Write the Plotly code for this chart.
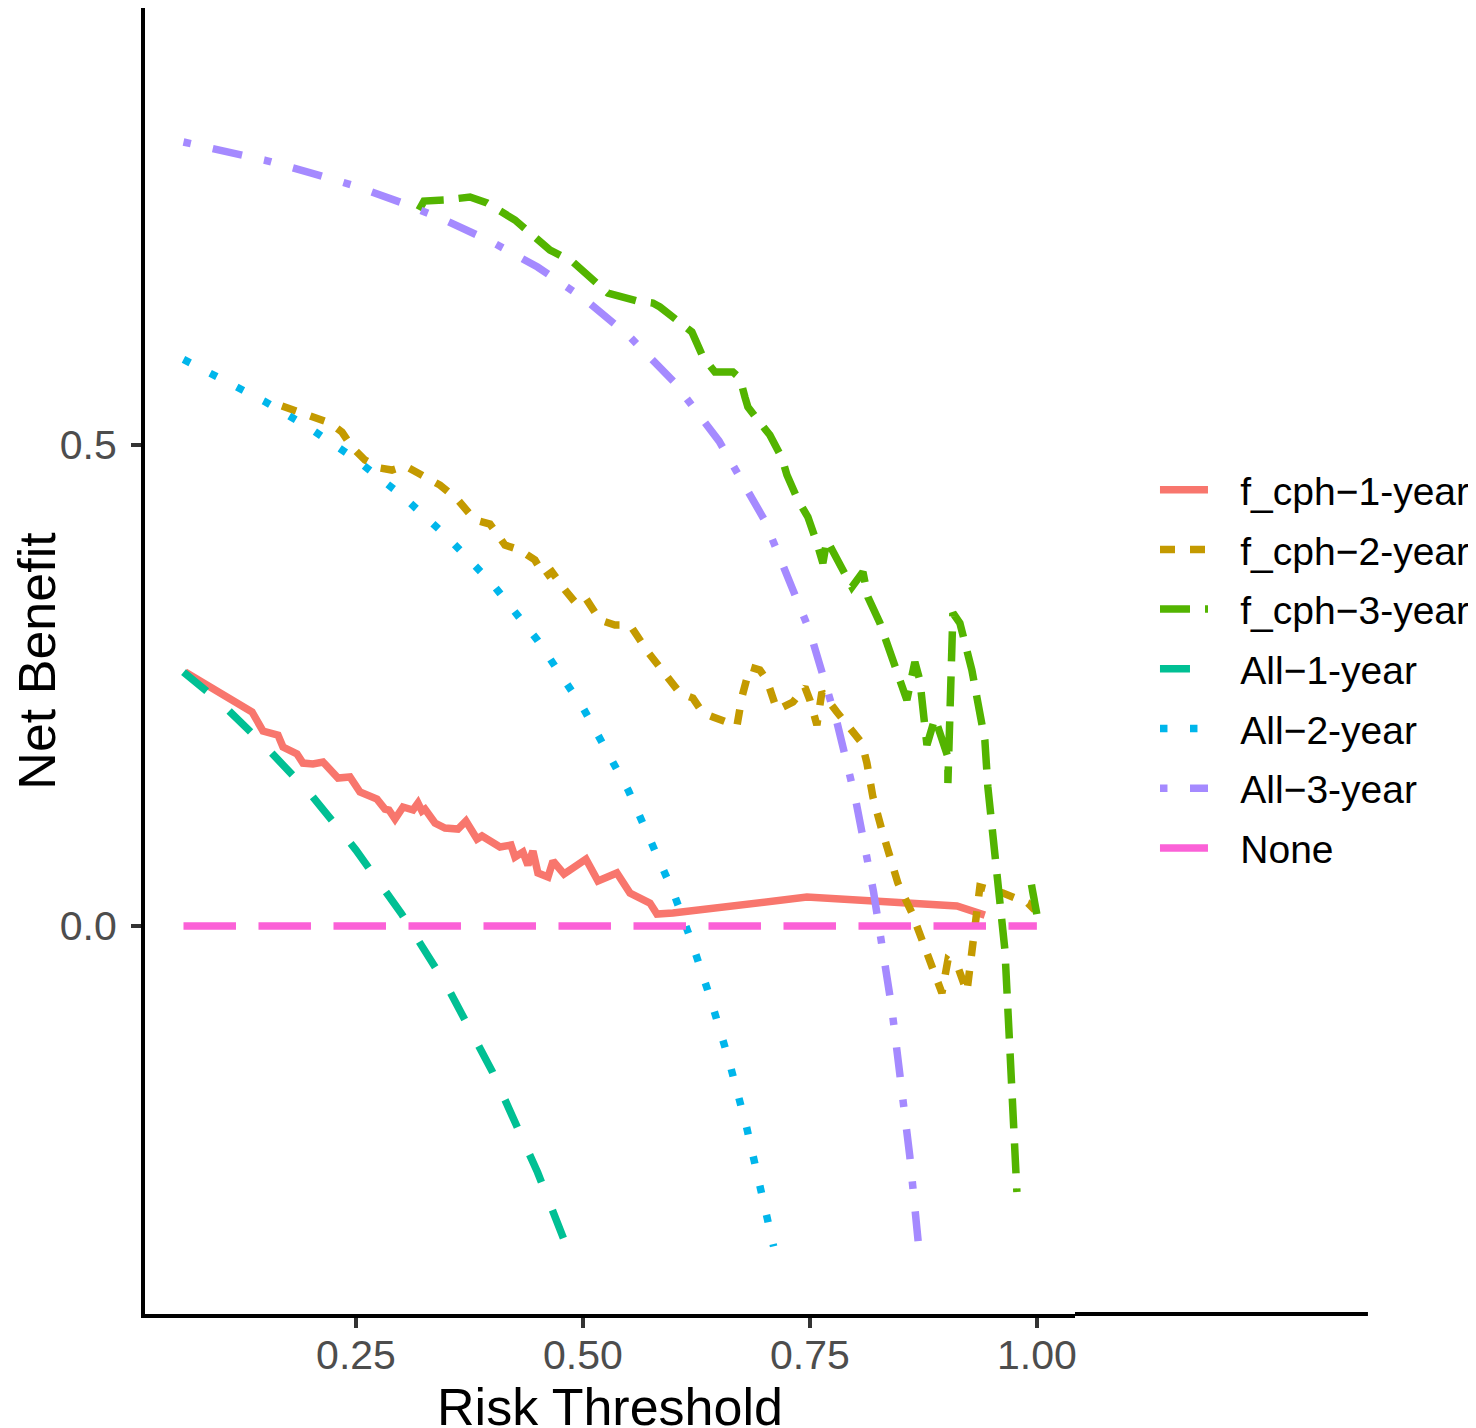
import plotly.graph_objects as go

# decision curve data
cph1_x = [0.0617, 0.1167, 0.1355, 0.1476, 0.1641, 0.1696, 0.1850, 0.1916, 0.2026, 0.2137,
          0.2302, 0.2434, 0.2544, 0.2731, 0.2819, 0.2863, 0.2930, 0.3018, 0.3128, 0.3183,
          0.3227, 0.3260, 0.3370, 0.3480, 0.3623, 0.3711, 0.3833, 0.3888, 0.4086, 0.4207,
          0.4251, 0.4339, 0.4394, 0.4449, 0.4504, 0.4615, 0.4670, 0.4791, 0.4890, 0.5033,
          0.5165, 0.5374, 0.5518, 0.5738, 0.5815, 0.5991, 0.7467, 0.9119, 0.9427]
cph1_y = [0.2640, 0.2318, 0.2225, 0.2027, 0.1985, 0.1861, 0.1788, 0.1694, 0.1684, 0.1705,
          0.1538, 0.1549, 0.1393, 0.1320, 0.1216, 0.1206, 0.1112, 0.1237, 0.1206, 0.1279,
          0.1195, 0.1216, 0.1071, 0.1019, 0.1008, 0.1091, 0.0904, 0.0936, 0.0821, 0.0842,
          0.0717, 0.0769, 0.0634, 0.0780, 0.0551, 0.0509, 0.0676, 0.0541, 0.0613, 0.0696,
          0.0468, 0.0551, 0.0343, 0.0239, 0.0125, 0.0135, 0.0301, 0.0208, 0.0114]

cph2_x = [0.1685, 0.1839, 0.2059, 0.2214, 0.2346, 0.2456, 0.2599, 0.2764, 0.2896, 0.3040,
          0.3183, 0.3425, 0.3623, 0.3811, 0.3976, 0.4141, 0.4306, 0.4471, 0.4581, 0.4659,
          0.4802, 0.4912, 0.5022, 0.5187, 0.5352, 0.5518, 0.5716, 0.5925, 0.6068, 0.6211,
          0.6322, 0.6432, 0.6696, 0.6751, 0.6839, 0.6949, 0.7026, 0.7137, 0.7313, 0.7445,
          0.7500, 0.7577, 0.7632, 0.7797, 0.7885, 0.8018, 0.8073, 0.8128, 0.8194, 0.8293,
          0.8381, 0.8469, 0.8624, 0.8734, 0.8844, 0.8954, 0.9020, 0.9130, 0.9229, 0.9284,
          0.9339, 0.9372, 0.9626, 0.9901, 0.9978]
cph2_y = [0.5405, 0.5353, 0.5281, 0.5229, 0.5135, 0.4979, 0.4844, 0.4761, 0.4740, 0.4782,
          0.4709, 0.4584, 0.4428, 0.4220, 0.4179, 0.3960, 0.3909, 0.3805, 0.3628, 0.3680,
          0.3493, 0.3368, 0.3420, 0.3181, 0.3129, 0.3129, 0.2848, 0.2588, 0.2422, 0.2370,
          0.2214, 0.2173, 0.2079, 0.2380, 0.2692, 0.2661, 0.2557, 0.2245, 0.2328, 0.2484,
          0.2349, 0.2089, 0.2432, 0.2225, 0.2121, 0.1965, 0.1902, 0.1694, 0.1341, 0.0998,
          0.0717, 0.0447, 0.0135, -0.0146, -0.0457, -0.0696, -0.0353, -0.0426, -0.0686, -0.0281,
          0.0239, 0.0405, 0.0343, 0.0239, 0.0166]

cph3_x = [0.3194, 0.3249, 0.3480, 0.3756, 0.3943, 0.4086, 0.4251, 0.4471, 0.4637, 0.4890,
          0.5132, 0.5275, 0.5595, 0.5771, 0.5848, 0.6035, 0.6200, 0.6322, 0.6454, 0.6652,
          0.6729, 0.6784, 0.6817, 0.6927, 0.7059, 0.7192, 0.7247, 0.7368, 0.7478, 0.7577,
          0.7643, 0.7687, 0.7863, 0.7963, 0.8084, 0.8139, 0.8271, 0.8436, 0.8513, 0.8568,
          0.8656, 0.8711, 0.8767, 0.8789, 0.8877, 0.8954, 0.9020, 0.9020, 0.9075, 0.9152,
          0.9229, 0.9284, 0.9339, 0.9372, 0.9427, 0.9460, 0.9537, 0.9592, 0.9648, 0.9703,
          0.9747, 0.9780, None, 0.9940, 1.0000]
cph3_y = [0.7443, 0.7536, 0.7547, 0.7578, 0.7516, 0.7443, 0.7339, 0.7162, 0.7027, 0.6902,
          0.6715, 0.6580, 0.6497, 0.6476, 0.6435, 0.6299, 0.6175, 0.5915, 0.5759, 0.5759,
          0.5696, 0.5499, 0.5395, 0.5260, 0.5104, 0.4865, 0.4688, 0.4428, 0.4252, 0.3981,
          0.3773, 0.4012, 0.3701, 0.3524, 0.3680, 0.3420, 0.3150, 0.2692, 0.2526, 0.2349,
          0.2744, 0.2557, 0.2069, 0.1882, 0.2162, 0.1954, 0.1757, 0.1486, 0.3254, 0.3150,
          0.2869, 0.2661, 0.2380, 0.2214, 0.1933, 0.1445, 0.0790, 0.0270, -0.0249, -0.1289,
          -0.2017, -0.2765, None, 0.0430, 0.0120]

all1_x = [0.06, 0.10, 0.15, 0.20, 0.25, 0.30, 0.35, 0.40, 0.45, 0.48]
all1_y = [0.264, 0.233, 0.187, 0.137, 0.079, 0.013, -0.062, -0.151, -0.256, -0.328]

all2_x = [0.06, 0.10, 0.15, 0.20, 0.25, 0.30, 0.35, 0.40, 0.45, 0.50, 0.55, 0.60,
          0.62, 0.64, 0.66, 0.68, 0.70, 0.71]
all2_y = [0.589, 0.570, 0.545, 0.517, 0.485, 0.448, 0.405, 0.356, 0.297, 0.227, 0.141, 0.034,
          -0.017, -0.074, -0.137, -0.208, -0.289, -0.333]

all3_x = [0.06, 0.10, 0.15, 0.20, 0.25, 0.30, 0.35, 0.40, 0.45, 0.50, 0.55, 0.60,
          0.65, 0.70, 0.75, 0.78, 0.80, 0.82, 0.84, 0.86, 0.87]
all3_y = [0.815, 0.807, 0.796, 0.783, 0.769, 0.752, 0.733, 0.711, 0.685, 0.653, 0.614, 0.566,
          0.504, 0.422, 0.306, 0.211, 0.133, 0.036, -0.084, -0.239, -0.335]

none_x = [0.06, 1.00]
none_y = [0.0, 0.0]

names = ["f_cph\u22121-year", "f_cph\u22122-year", "f_cph\u22123-year",
         "All\u22121-year", "All\u22122-year", "All\u22123-year", "None"]
colors = ["#F8766D", "#C49A00", "#53B400", "#00C094", "#00B6EB", "#A58AFF", "#FB61D7"]
# ggplot linetypes solid, 22, 42, 44, 13, 1343, 73 scaled by line width
dashes = ["solid", "15px,15px", "30px,15px", "30px,30px", "7.5px,22.5px",
          "7.5px,22.5px,30px,22.5px", "52.5px,22.5px"]
series = [(cph1_x, cph1_y), (cph2_x, cph2_y), (cph3_x, cph3_y),
          (all1_x, all1_y), (all2_x, all2_y), (all3_x, all3_y), (none_x, none_y)]

FONT = "Liberation Sans, Arial, sans-serif"
GAP = "\u2002\u2009"  # extra room between legend key and label, like ggplot

fig = go.Figure()
for i, (xs, ys) in enumerate(series):
    fig.add_trace(go.Scatter(
        x=xs, y=ys, mode="lines", name=GAP + names[i], legendgroup=str(i),
        line=dict(color=colors[i], width=7.5, dash=dashes[i]),
        connectgaps=False,
    ))

# page body has an 8px margin, so the margins are shifted to compensate
fig.update_layout(
    width=1476, height=1428,
    margin=dict(l=137, r=409, t=0, b=122),
    plot_bgcolor="white", paper_bgcolor="white",
    font=dict(family=FONT),
    legend=dict(
        x=1.086, y=0.494, xanchor="left", yanchor="middle",
        font=dict(size=39, color="black", family=FONT),
        tracegroupgap=6, itemwidth=48, bgcolor="rgba(0,0,0,0)",
    ),
)
fig.update_xaxes(
    range=[0.0176, 1.042], tickvals=[0.25, 0.5, 0.75, 1.0],
    ticktext=["0.25", "0.50", "0.75", "1.00"],
    showgrid=False, zeroline=False, showline=True, linecolor="black", linewidth=4,
    ticks="outside", ticklen=10, tickwidth=4, tickcolor="#333333",
    tickfont=dict(size=41, color="#4D4D4D", family=FONT), ticklabelstandoff=-8,
    title=dict(text="Risk Threshold", font=dict(size=52, color="black", family=FONT),
               standoff=8),
    automargin=False,
)
fig.update_yaxes(
    range=[-0.4033, 0.9543], tickvals=[0.0, 0.5], ticktext=["0.0", "0.5"],
    showgrid=False, zeroline=False, showline=True, linecolor="black", linewidth=4,
    ticks="outside", ticklen=10, tickwidth=4, tickcolor="#333333",
    tickfont=dict(size=41, color="#4D4D4D", family=FONT), ticklabelstandoff=6,
    title=dict(text="Net Benefit", font=dict(size=52, color="black", family=FONT),
               standoff=31),
    automargin=False,
)
# the bottom axis line continues under the legend in the original
fig.add_shape(type="line", xref="paper", yref="paper", x0=1.0, x1=1.315, y0=0, y1=0,
              line=dict(color="black", width=4))

fig.write_html("out.html")
